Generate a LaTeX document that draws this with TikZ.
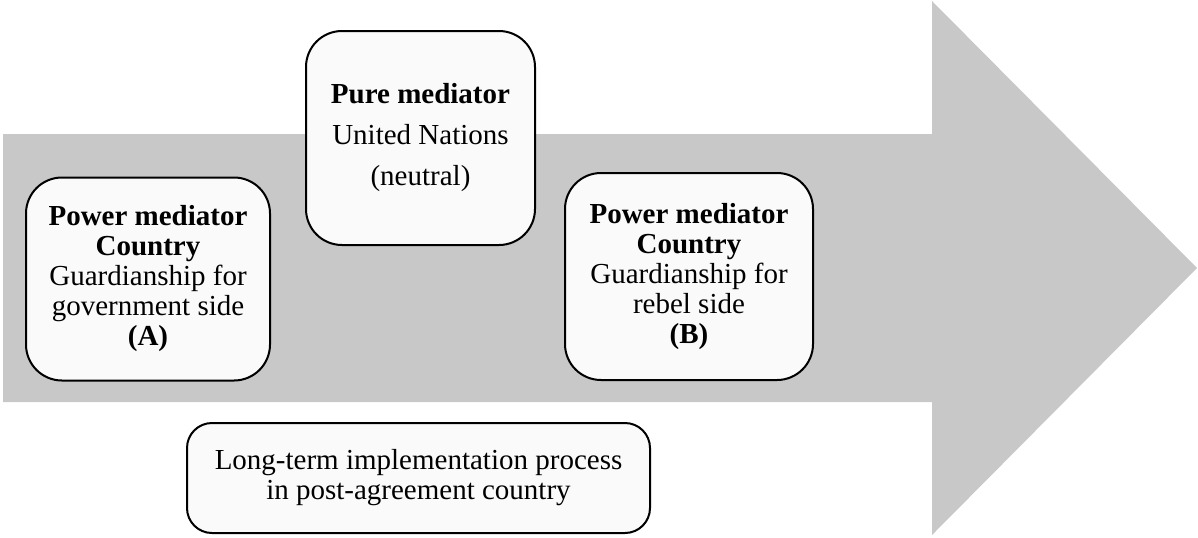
\documentclass[tikz,border=0pt]{standalone}
\usepackage{fontspec}
\setmainfont{Liberation Serif}
\definecolor{bandgray}{HTML}{C8C8C8}
\definecolor{boxfill}{HTML}{FAFAFA}
\begin{document}
\begin{tikzpicture}[x=0.5pt,y=-0.5pt,
  actor/.style={draw,line width=1pt,fill=boxfill,rounded corners=18pt,align=center,inner sep=0pt,font=\fontsize{14.5}{15}\selectfont}]
\useasboundingbox (0,0) rectangle (1198,537);
% big process arrow
\fill[bandgray] (3,134) -- (932,134) -- (932,1) -- (1197,268) -- (932,535) -- (932,402) -- (3,402) -- cycle;
% mediators
\draw (148,279) node[actor,minimum width=122pt,minimum height=101.5pt] (govA) {\textbf{Power mediator}\\\textbf{Country}\\Guardianship for\\government side\\\textbf{(A)}};
\draw (420.5,138) node[actor,minimum width=114.5pt,minimum height=107pt,font=\fontsize{14.5}{20.5}\selectfont] (un) {\textbf{Pure mediator}\\United Nations\\(neutral)};
\draw (689,276.5) node[actor,minimum width=124pt,minimum height=103.5pt] (rebB) {\textbf{Power mediator}\\\textbf{Country}\\Guardianship for\\rebel side\\\textbf{(B)}};
% implementation
\draw (418.5,478) node[actor,rounded corners=12.5pt,minimum width=231.5pt,minimum height=55pt] (impl) {Long-term implementation process\\in post-agreement country};
\end{tikzpicture}
\end{document}
